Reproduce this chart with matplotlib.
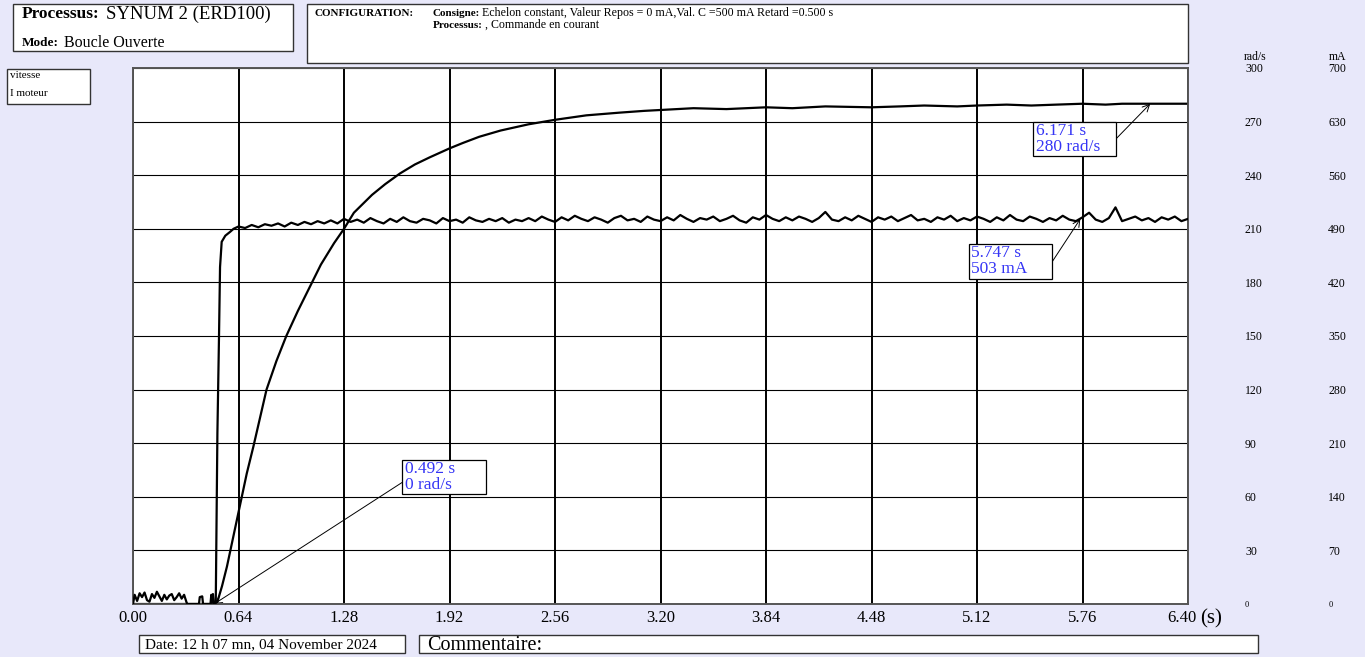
import numpy as np
import matplotlib
matplotlib.use("Agg")
import matplotlib.pyplot as plt
from matplotlib.patches import Rectangle
from matplotlib.transforms import ScaledTranslation

plt.rcParams['font.family'] = ['Liberation Serif', 'DejaVu Serif']

# x axis (s)
x_ticks = [0.00, 0.64, 1.28, 1.92, 2.56, 3.20, 3.84, 4.48, 5.12, 5.76, 6.40]
x_labels = ['0.00', '0.64', '1.28', '1.92', '2.56', '3.20', '3.84', '4.48', '5.12', '5.76', '6.40']
# right scales
vit_ticks = [0, 30, 60, 90, 120, 150, 180, 210, 240, 270, 300]
mA_ticks = [0, 70, 140, 210, 280, 350, 420, 490, 560, 630, 700]

# vitesse (rad/s)
vitesse_t = [0.00, 0.49, 0.508, 0.54, 0.57, 0.60, 0.63, 0.66, 0.69, 0.73, 0.77, 0.81,
             0.87, 0.93, 1.00, 1.07, 1.14, 1.22, 1.28, 1.34, 1.45, 1.53, 1.62, 1.71,
             1.80, 1.92, 2.00, 2.10, 2.23, 2.40, 2.56, 2.75, 2.95, 3.10, 3.20,
             3.40, 3.60, 3.84, 4.00, 4.20, 4.48, 4.65, 4.80, 5.00, 5.12, 5.30, 5.45,
             5.60, 5.76, 5.90, 6.00, 6.17, 6.30, 6.40]
vitesse = [0, 0, 0, 10, 21, 34, 47, 60, 73, 88, 104, 120,
           136, 150, 164, 177, 190, 202, 210, 219, 229, 235, 241, 246,
           250, 255, 258, 261.5, 265, 268.5, 271, 273.5, 275, 276, 276.5,
           277.5, 277, 278, 277.5, 278.5, 278, 278.5, 279, 278.5, 279, 279.5, 279,
           279.5, 280, 279.5, 280, 280, 280, 280]

# I moteur (mA): start-up part
courant_t0 = [0.00, 0.01, 0.025, 0.04, 0.055, 0.07, 0.085, 0.10, 0.115, 0.13, 0.145,
              0.16, 0.175, 0.19, 0.205, 0.22, 0.235, 0.25, 0.265, 0.28, 0.295, 0.31,
              0.325, 0.33, 0.40, 0.405, 0.42, 0.425, 0.47, 0.475, 0.48, 0.485, 0.49,
              0.502, 0.512, 0.522, 0.528, 0.538, 0.56, 0.589, 0.61]
courant0 = [0, 12, 4, 14, 9, 15, 5, 3, 13, 8, 16,
            10, 4, 12, 6, 11, 13, 5, 9, 14, 7, 12,
            2, 0, 0, 9, 10, 0, 0, 12, 2, 13, 0,
            1, 223, 353, 440, 473, 481, 486, 490]
# I moteur (mA): steady part, 0.64 s -> 6.40 s, one value every 0.04 s
courant1 = [493, 491, 495, 492, 496, 494, 497, 493, 498, 495, 499, 496, 500, 497,
            501, 497, 503, 499, 502, 498, 504, 500, 497, 503, 499, 505, 500, 498, 503,
            501, 497, 504, 500, 502, 498, 505, 501, 499, 503, 500, 504, 498, 502, 500,
            504, 500, 506, 502, 499, 505, 501, 507, 503, 500,
            505, 502, 498, 504, 507, 501, 503, 499, 506, 502,
            500, 505, 501, 508, 503, 499, 504, 502, 506, 500,
            503, 507, 501, 498, 505, 502, 508, 503, 500, 505,
            501, 506, 503, 499, 504, 512, 502, 500, 505, 501,
            507, 503, 499, 505, 502, 506, 500, 504, 508, 501,
            503, 499, 505, 502, 507, 500, 504, 501, 506, 503,
            499, 505, 501, 508, 502, 500, 506, 503, 499, 504,
            501, 507, 502, 500, 505, 511, 502, 499, 504, 518,
            500, 503, 506, 501, 504, 499, 505, 502, 506, 500,
            503]
courant_t1 = np.linspace(0.64, 6.40, len(courant1))

# cursor readings
cur1 = (0.492, 0)      # s, rad/s
cur2 = (6.171, 280)    # s, rad/s
cur3 = (5.747, 503)    # s, mA

W, H = 1370, 657
bg = '#E8E8FA'
blue = '#3535F5'

fig = plt.figure(figsize=(W / 100, H / 100), dpi=100, facecolor=bg)

# main plotting area
x0, x1, y0, y1 = 133, 1188, 68, 604
ax = fig.add_axes([x0 / W, 1 - y1 / H, (x1 - x0) / W, (y1 - y0) / H])
ax.set_facecolor('white')
ax.set_xlim(0, 6.40)
ax.set_ylim(0, 300)
ax2 = ax.twinx()
ax2.set_ylim(0, 700)

ax.set_xticks(x_ticks, x_labels)
ax.xaxis.grid(True, color='black', lw=1.4)
ax.set_yticks(vit_ticks, [str(v) for v in vit_ticks])
ax.yaxis.grid(True, color='black', lw=0.8)
ax.set_axisbelow(True)
ax.yaxis.tick_right()
ax.tick_params(axis='x', length=0, pad=4, labelsize=12)
ax.tick_params(axis='y', length=0, pad=41, labelsize=8.5)
ax2.set_yticks(mA_ticks, [str(v) for v in mA_ticks])
ax2.tick_params(axis='y', length=0, pad=101, labelsize=8.5)
for lab in ax.get_yticklabels() + ax2.get_yticklabels():
    if lab.get_text() == '0':
        lab.set_fontsize(6)
last = ax.get_xticklabels()[-1]
last.set_transform(last.get_transform() + ScaledTranslation(-0.06, 0, fig.dpi_scale_trans))
for a in (ax, ax2):
    for sp in a.spines.values():
        sp.set_color('#555555')
        sp.set_linewidth(1.2)

ax.plot(vitesse_t, vitesse, color='black', lw=1.6, zorder=3)
ax2.plot(list(courant_t0) + list(courant_t1), courant0 + courant1,
         color='black', lw=1.6, zorder=3)

# cursor boxes
box_kw = dict(fc='white', ec='black', lw=0.9, zorder=5)
txt_kw = dict(color=blue, fontsize=12.5, ha='left', va='center', linespacing=1.05, zorder=6)
arr_kw = dict(arrowstyle='->,head_length=0.5,head_width=0.25', lw=0.7, color='black',
              shrinkA=0, shrinkB=0)

ax.add_patch(Rectangle((1.632, 61.6), 0.51, 19, **box_kw))
ax.text(1.65, 71.0, f'{cur1[0]:.3f} s\n{cur1[1]} rad/s', **txt_kw)
ax.annotate('', xy=cur1, xytext=(1.632, 68), arrowprops=arr_kw, zorder=4)

ax.add_patch(Rectangle((5.460, 250.7), 0.503, 19.1, **box_kw))
ax.text(5.475, 260.2, f'{cur2[0]:.3f} s\n{cur2[1]} rad/s', **txt_kw)
ax.annotate('', xy=cur2, xytext=(5.963, 260.3), arrowprops=arr_kw, zorder=4)

ax2.add_patch(Rectangle((5.072, 424.4), 0.503, 45.6, **box_kw))
ax2.text(5.086, 447.8, f'{cur3[0]:.3f} s\n{cur3[1]} mA', **txt_kw)
ax2.annotate('', xy=cur3, xytext=(5.575, 446.6), arrowprops=arr_kw, zorder=4)

# overlay in pixel coordinates for the header / footer boxes
ov = fig.add_axes([0, 0, 1, 1], zorder=-1)
ov.set_xlim(0, W)
ov.set_ylim(H, 0)
ov.axis('off')
ov.add_patch(Rectangle((1365, 0), 5, H, fc='white', ec='none'))

frame = dict(fc='white', ec='#333333', lw=1.0)
ov.add_patch(Rectangle((13, 4), 280, 47, **frame))
ov.add_patch(Rectangle((307, 4), 881, 59, **frame))
ov.add_patch(Rectangle((7, 69), 83, 35, **frame))
ov.add_patch(Rectangle((139, 635), 266, 18, **frame))
ov.add_patch(Rectangle((419, 635), 839, 18, **frame))

ov.text(22, 14, 'Processus:', fontsize=12.5, fontweight='bold', va='center')
ov.text(106, 14, 'SYNUM 2 (ERD100)', fontsize=13.5, va='center')
ov.text(22, 43, 'Mode:', fontsize=9.5, fontweight='bold', va='center')
ov.text(64, 43, 'Boucle Ouverte', fontsize=11.5, va='center')

ov.text(315, 13, 'CONFIGURATION:', fontsize=8, fontweight='bold', va='center')
ov.text(433, 13, 'Consigne:', fontsize=8, fontweight='bold', va='center')
ov.text(482, 13, 'Echelon constant, Valeur Repos = 0 mA,Val. C =500 mA Retard =0.500 s',
        fontsize=8.6, va='center')
ov.text(433, 25, 'Processus:', fontsize=8, fontweight='bold', va='center')
ov.text(485, 25, ', Commande en courant', fontsize=8.6, va='center')

ov.text(10, 76, 'vitesse', fontsize=8, va='center')
ov.text(10, 94, 'I moteur', fontsize=8, va='center')

ov.text(1244, 57, 'rad/s', fontsize=8.5, va='center')
ov.text(1329, 57, 'mA', fontsize=8.5, va='center')
ov.text(1200, 619, '(s)', fontsize=15, va='center')

ov.text(145, 645, 'Date: 12 h 07 mn, 04 November 2024', fontsize=11, va='center')
ov.text(427, 645, 'Commentaire:', fontsize=14.5, va='center')

fig.savefig('out.png', dpi=100, facecolor=fig.get_facecolor())
